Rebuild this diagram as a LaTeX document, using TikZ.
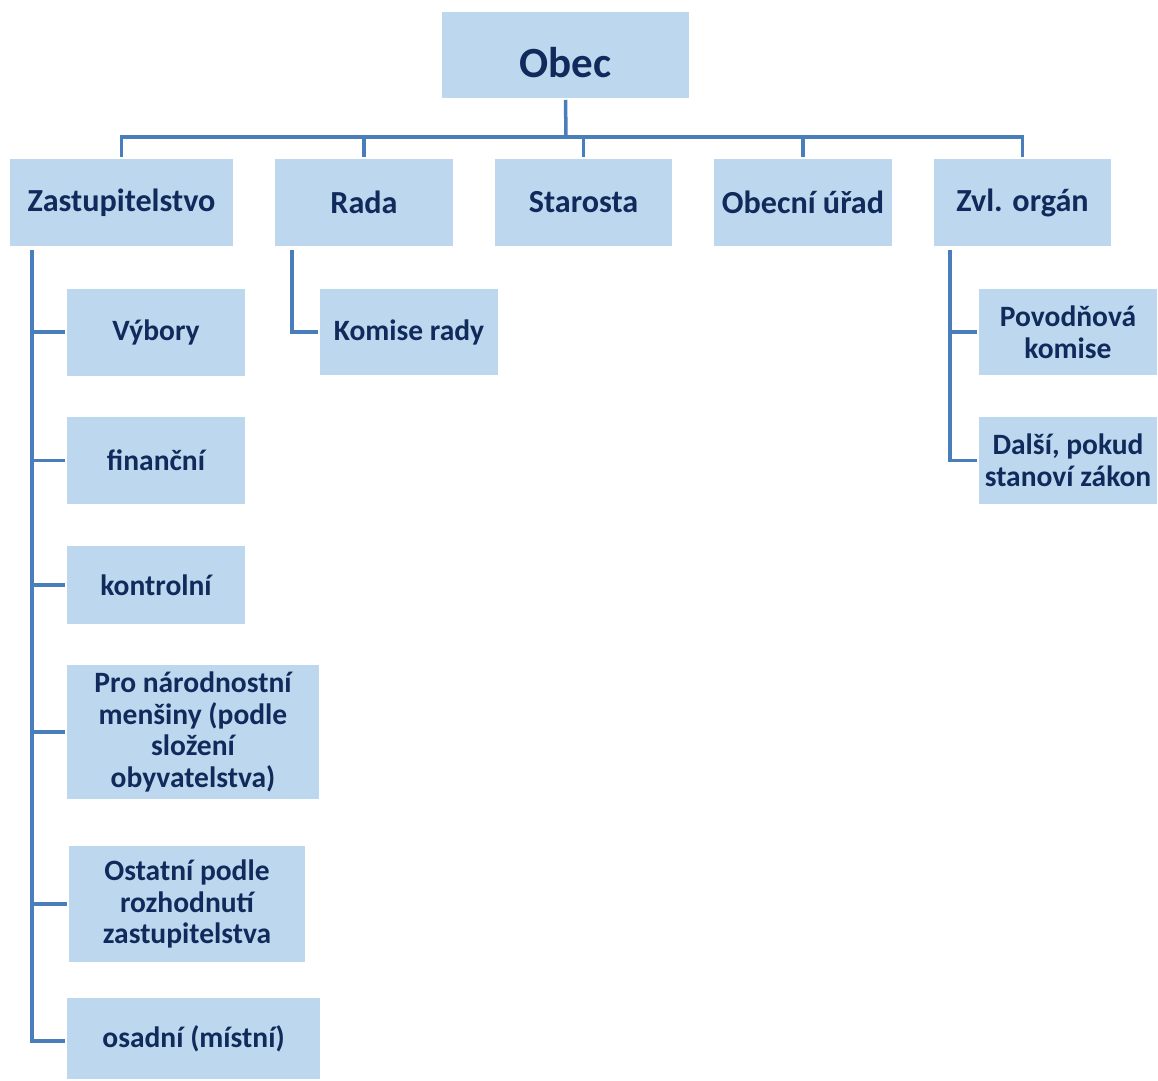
\documentclass[tikz,border=0pt]{standalone}
\usepackage{fontspec}
\setmainfont{Carlito}
\usepackage{tikz}
\definecolor{boxblue}{HTML}{BDD7EE}
\definecolor{linkblue}{HTML}{4A7EBB}
\definecolor{navy}{HTML}{102A5C}

\begin{document}
\begin{tikzpicture}[x=0.02cm,y=-0.02cm,
    every path/.style={line width=2pt,draw=linkblue},
    unit/.style={fill=boxblue,draw=none,text=navy,font=\bfseries\fontsize{16.8}{18}\selectfont,
      align=center,inner sep=0pt,minimum height=87*0.02cm},
    head/.style={unit,font=\bfseries\fontsize{18.3}{20}\selectfont}]
  \useasboundingbox[draw=none] (0,0) rectangle (1158,1080);

  \node[unit,minimum width=247*0.02cm,minimum height=86*0.02cm,text height=26pt,text depth=0pt,
    font=\bfseries\fontsize{24.5}{28}\selectfont] (obec) at (565.5,55) {Obec};

  \node[head,minimum width=223*0.02cm] (zast) at (121.5,202.5) {Zastupitelstvo};
  \node[head,minimum width=178*0.02cm] (rada) at (364,202.5) {Rada};
  \node[head,minimum width=177*0.02cm] (starosta) at (583.5,202.5) {Starosta};
  \node[head,minimum width=178*0.02cm] (urad) at (803,202.5) {Obecní úřad};
  \node[head,minimum width=177*0.02cm] (zvl) at (1022.5,202.5) {Zvl. orgán};

  \node[unit,minimum width=178*0.02cm] (vybory) at (156,332) {Výbory};
  \node[unit,minimum width=178*0.02cm] (financni) at (156,460.5) {finanční};
  \node[unit,minimum width=178*0.02cm,minimum height=78*0.02cm] (kontrolni) at (156,585) {kontrolní};
  \node[unit,minimum width=252*0.02cm,minimum height=134*0.02cm] (mensiny) at (193,732) {Pro národnostní\\menšiny (podle\\složení\\obyvatelstva)};
  \node[unit,minimum width=236*0.02cm,minimum height=116*0.02cm] (ostatni) at (187,904) {Ostatní podle\\rozhodnutí\\zastupitelstva};
  \node[unit,minimum width=253*0.02cm,minimum height=81*0.02cm] (osadni) at (193.5,1038.5) {osadní (místní)};

  \node[unit,minimum width=178*0.02cm,minimum height=86*0.02cm] (komise) at (409,332) {Komise rady};

  \node[unit,minimum width=178*0.02cm,minimum height=86*0.02cm] (povod) at (1068,332) {Povodňová\\komise};
  \node[unit,minimum width=178*0.02cm] (dalsi) at (1068,460.5) {Další, pokud\\stanoví zákon};

  % top level
  \coordinate (bus) at (566,137);
  \draw (obec.south) -- (bus);
  \foreach \n in {zast,rada,starosta,urad,zvl}
    \draw (bus) -| (\n.north);

  % zastupitelstvo
  \coordinate (zl) at (32,250);
  \foreach \n in {vybory,financni,kontrolni,mensiny,ostatni}
    \draw (zl) |- (\n.west);
  \draw (zl) |- (osadni.west |- 0,1041);

  % rada
  \coordinate (rl) at (292,250);
  \draw (rl) |- (komise.west);

  % zvlastni organ
  \coordinate (ol) at (950,250);
  \draw (ol) |- (povod.west);
  \draw (ol) |- (dalsi.west);
\end{tikzpicture}
\end{document}
